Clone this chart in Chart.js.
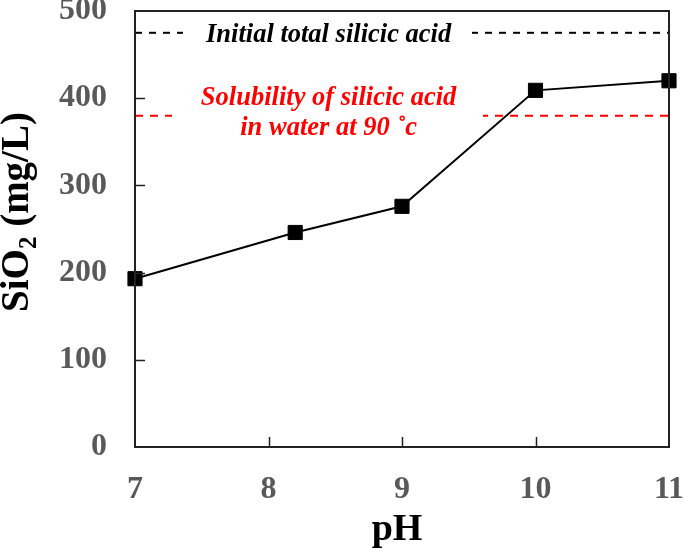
<!DOCTYPE html>
<html>
<head>
<meta charset="utf-8">
<script src="https://cdn.jsdelivr.net/npm/chart.js@4/dist/chart.umd.min.js"></script>
<style>
  html, body { margin: 0; padding: 0; background: #fff; }
  #wrap { width: 685px; height: 548px; }
</style>
</head>
<body>
<div id="wrap"><canvas id="chart" width="685" height="548"></canvas></div>
<script>
// ---- data ----
const phValues   = [7, 8.2, 9, 10, 11];
const sio2Values = [193, 246, 276, 409, 420];
const xTicks = [7, 8, 9, 10, 11];
const yTicks = [0, 100, 200, 300, 400, 500];
const initialTotal = 475;     // initial total silicic acid
const solubility90 = 380;     // solubility in water at 90 C
const initialLabel = "Initial total silicic acid";
const solubilityLabel = ["Solubility of silicic acid", "in water at 90 \u02DAc"];

const SERIF = "'Liberation Serif', 'Times New Roman', serif";
const GREY = "#595959";

// frame, inner tick marks, titles and the two labelled levels
const decor = {
  id: "decor",
  afterDatasetsDraw(chart){
    const {ctx, chartArea: a, scales:{x, y}} = chart;
    ctx.save();

    // gaps in the dashed lines + their labels
    const cx = x.getPixelForValue(8.45);
    ctx.fillStyle = "#fff";
    const yi = y.getPixelForValue(initialTotal);
    const ys = y.getPixelForValue(solubility90);
    ctx.fillRect(183, yi - 4, 472 - 183, 8);
    ctx.fillRect(172, ys - 4, 483 - 172, 8);

    ctx.textAlign = "center";
    ctx.textBaseline = "alphabetic";
    ctx.font = "italic bold 26.5px " + SERIF;
    ctx.fillStyle = "#000";
    ctx.fillText(initialLabel, cx, yi + 9);
    ctx.fillStyle = "#ff0000";
    ctx.fillText(solubilityLabel[0], cx, ys - 11);
    ctx.fillText(solubilityLabel[1], cx, ys + 19);

    // frame
    ctx.strokeStyle = "#222";
    ctx.lineWidth = 2;
    ctx.strokeRect(a.left, a.top, a.right - a.left, a.bottom - a.top);

    // inner tick marks
    ctx.beginPath();
    yTicks.slice(1, -1).forEach(v=>{
      const py = Math.round(y.getPixelForValue(v)) + 0.5;
      ctx.moveTo(a.left, py); ctx.lineTo(a.left + 10, py);
    });
    xTicks.slice(1, -1).forEach(v=>{
      const px = Math.round(x.getPixelForValue(v)) + 0.5;
      ctx.moveTo(px, a.bottom); ctx.lineTo(px, a.bottom - 10);
    });
    ctx.lineWidth = 1.5;
    ctx.stroke();

    // x title
    ctx.fillStyle = "#000";
    ctx.font = "bold 38px " + SERIF;
    ctx.textBaseline = "alphabetic";
    ctx.fillText("pH", (a.left + a.right) / 2 - 5, 540);

    // y title with subscript
    const parts = [["SiO", 39, 0], ["2", 25, 8], [" (mg/L)", 39, 0]];
    let total = 0;
    parts.forEach(p=>{ ctx.font = "bold " + p[1] + "px " + SERIF; p.push(ctx.measureText(p[0]).width); total += p[3]; });
    ctx.translate(28, 212);
    ctx.rotate(-Math.PI / 2);
    ctx.textAlign = "left";
    let pos = -total / 2;
    parts.forEach(p=>{
      ctx.font = "bold " + p[1] + "px " + SERIF;
      ctx.fillText(p[0], pos, p[2]);
      pos += p[3];
    });
    ctx.restore();
  }
};

new Chart(document.getElementById("chart"), {
  type: "line",
  data: {
    datasets: [
      {
        label: "SiO2",
        data: phValues.map((p, i)=>({x: p, y: sio2Values[i]})),
        borderColor: "#000",
        backgroundColor: "#000",
        borderWidth: 2,
        pointStyle: "rect",
        pointRadius: 10,
        pointBorderWidth: 1,
        tension: 0,
        clip: false,
        order: 0
      },
      {
        label: "initial",
        data: [{x: xTicks[0], y: initialTotal}, {x: xTicks[xTicks.length-1], y: initialTotal}],
        borderColor: "#000",
        borderWidth: 2,
        borderDash: [7, 7],
        pointRadius: 0,
        order: 2
      },
      {
        label: "solubility",
        data: [{x: xTicks[0], y: solubility90}, {x: xTicks[xTicks.length-1], y: solubility90}],
        borderColor: "#ff0000",
        borderWidth: 2,
        borderDash: [8, 7],
        pointRadius: 0,
        order: 1
      }
    ]
  },
  options: {
    responsive: false,
    animation: false,
    layout: { padding: { top: 11, right: 16, left: 0, bottom: 0 } },
    plugins: { legend: { display: false }, tooltip: { enabled: false } },
    scales: {
      x: {
        type: "linear",
        min: xTicks[0], max: xTicks[xTicks.length-1],
        afterBuildTicks: s=>{ s.ticks = xTicks.map(v=>({value: v})); },
        afterFit: s=>{ s.height = 101; s.paddingLeft = 0; s.paddingRight = 0; },
        grid: { display: false },
        border: { display: false },
        ticks: { color: GREY, padding: 16, font: { family: SERIF, size: 32, weight: "bold" } }
      },
      y: {
        min: yTicks[0], max: yTicks[yTicks.length-1],
        afterBuildTicks: s=>{ s.ticks = yTicks.map(v=>({value: v})); },
        afterFit: s=>{ s.width = 135; s.paddingTop = 0; s.paddingBottom = 0; },
        grid: { display: false },
        border: { display: false },
        ticks: { color: GREY, padding: 20, font: { family: SERIF, size: 32, weight: "bold" } }
      }
    }
  },
  plugins: [decor]
});
</script>
</body>
</html>
